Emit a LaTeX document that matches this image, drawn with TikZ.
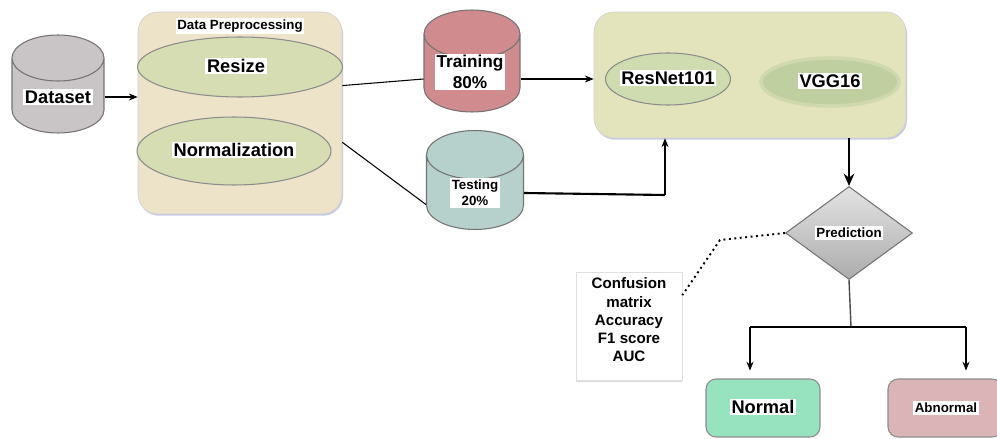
\documentclass[tikz,border=0pt]{standalone}
\usepackage{fontspec}
\setmainfont{Liberation Sans}
\usetikzlibrary{shapes.geometric, arrows.meta, shadows}
\definecolor{drumgray}{RGB}{201,196,198}
\definecolor{prepbeige}{RGB}{237,227,201}
\definecolor{stagegreen}{RGB}{214,221,178}
\definecolor{trainred}{RGB}{208,139,143}
\definecolor{testteal}{RGB}{182,208,203}
\definecolor{modelbox}{RGB}{228,228,188}
\definecolor{resgreen}{RGB}{207,220,176}
\definecolor{vgggreen}{RGB}{192,207,160}
\definecolor{normgreen}{RGB}{152,227,191}
\definecolor{abnred}{RGB}{219,180,184}
\tikzset{
    drum/.style={cylinder, shape border rotate=90, aspect=0.5, draw=black!55,
                 line width=0.6pt, inner ysep=0pt, anchor=shape center},
    panel/.style={rectangle, rounded corners=0.4cm, draw=black!18, inner sep=0pt,
                  drop shadow={shadow xshift=0.6pt, shadow yshift=-1pt, fill=blue!40!gray, opacity=0.3}},
    stage/.style={ellipse, draw=black!45, line width=0.6pt, inner sep=0pt},
    result/.style={rectangle, rounded corners=0.2cm, draw=black!45, line width=0.6pt,
                   minimum width=2.28cm, minimum height=1.16cm, inner sep=0pt},
    lbl/.style={fill=white, inner sep=1pt},
    bigtxt/.style={font=\fontsize{10.4}{12.5}\selectfont\bfseries},
    midtxt/.style={font=\fontsize{9.8}{11.8}\selectfont\bfseries},
    smalltxt/.style={font=\fontsize{7.6}{9}\selectfont\bfseries},
    arrow/.style={-{Stealth[length=5pt, width=4pt]}, line width=0.6pt},
    heavy/.style={-{Stealth[length=7pt, width=6pt]}, line width=1.2pt},
}

\begin{document}
\begin{tikzpicture}[x=0.02cm, y=-0.02cm]
    \useasboundingbox (0,0) rectangle (997,439);

    % raw data
    \node[drum, fill=drumgray, inner xsep=0.92cm, minimum height=1.96cm] (ds) at (58,84) {};
    \node[lbl, bigtxt] (ds-t) at (58,97) {Dataset};

    % preprocessing block
    \node[panel, fill=prepbeige, minimum width=4.08cm, minimum height=4.04cm] (prep) at (240,113) {};
    \node[lbl, smalltxt] (prep-t) at (240,26) {Data Preprocessing};
    \node[stage, fill=stagegreen, minimum width=4.1cm, minimum height=1.2cm] (rsz) at (240,67) {};
    \node[lbl, bigtxt] (rsz-t) at (236,66) {Resize};
    \node[stage, fill=stagegreen, minimum width=3.88cm, minimum height=1.36cm] (norm) at (234,151) {};
    \node[lbl, bigtxt] (norm-t) at (234,150) {Normalization};

    % train / test split
    \node[drum, fill=trainred, inner xsep=0.96cm, minimum height=2.04cm] (train) at (472,61) {};
    \node[lbl, midtxt, align=center] (train-t) at (470,72) {Training\\80\%};
    \node[drum, fill=testteal, inner xsep=0.97cm, minimum height=1.98cm] (test) at (475,180) {};
    \node[lbl, smalltxt, align=center] (test-t) at (475,193) {Testing\\20\%};

    % models
    \node[panel, fill=modelbox, minimum width=6.24cm, minimum height=2.52cm] (models) at (750,75) {};
    \node[stage, fill=resgreen, minimum width=2.5cm, minimum height=1.04cm] (res) at (668,79) {};
    \node[lbl, bigtxt] (res-t) at (668,78) {ResNet101};
    \node[ellipse, fill=vgggreen, draw=vgggreen!55!modelbox, line width=2pt,
          minimum width=2.76cm, minimum height=0.96cm, inner sep=0pt] (vgg) at (830,82) {};
    \node[lbl, bigtxt] (vgg-t) at (830,81) {VGG16};

    % evaluation
    \node[diamond, top color=gray!22, bottom color=gray!65, draw=black!55, line width=0.6pt,
          minimum width=2.54cm, minimum height=1.86cm, inner sep=0pt] (pred) at (849,233) {};
    \node[lbl, smalltxt] (pred-t) at (849,233) {Prediction};
    \node[rectangle, fill=white, draw=black!12, minimum width=2.12cm, minimum height=2.16cm,
          drop shadow={shadow xshift=0pt, shadow yshift=-1.2pt, opacity=0.3}] (metrics) at (629,326) {};
    \node[align=center, inner sep=0pt, font=\fontsize{8.6}{10.4}\selectfont\bfseries] (metrics-t) at (629,320)
        {Confusion\\matrix\\Accuracy\\F1 score\\AUC};
    \node[result, fill=normgreen] (normal) at (763,408) {};
    \node[lbl, bigtxt] (normal-t) at (763,407) {Normal};
    \node[result, fill=abnred] (abn) at (945,408) {};
    \node[lbl, smalltxt] (abn-t) at (946,408) {Abnormal};

    \coordinate (bend) at (720,240);
    \coordinate (fork) at (851,327);
    \coordinate (lft) at (750,327);
    \coordinate (rgt) at (966,327);

    % connectors
    \draw[arrow] (ds.east |- ds-t) -- (prep.west |- ds-t);
    \draw[line width=0.6pt] (prep.15) -- (train.west |- res);
    \draw[line width=0.6pt] (prep.-16) -- (test.west);
    \draw[arrow] (train.east |- res) -- (models.west |- res);
    \draw[line width=1.2pt] (test.east |- test-t) -- (665,195);
    \draw[arrow] (665,195) -- (models.south -| 665,0);
    \draw[heavy] (models.south -| pred) -- (pred.north);
    \draw[dotted, line width=1.1pt] (pred.west) -- (bend) -- (metrics.30);
    \draw[line width=0.8pt, black!70] (pred.south) -- (fork);
    \draw[line width=0.8pt] (lft) -- (rgt);
    \draw[arrow, shorten >=0.16cm] (lft) -- (lft |- normal.north);
    \draw[arrow, shorten >=0.16cm] (rgt) -- (rgt |- abn.north);
\end{tikzpicture}
\end{document}
